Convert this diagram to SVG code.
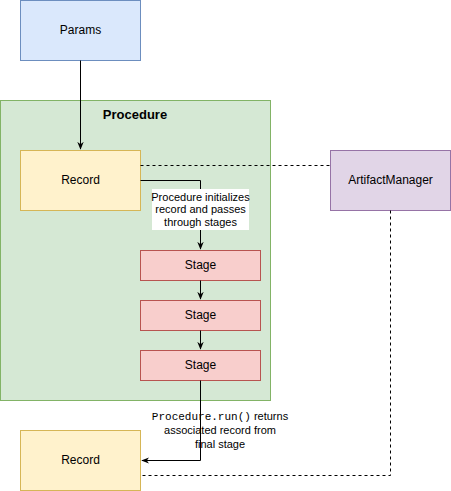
<svg xmlns="http://www.w3.org/2000/svg" width="451" height="491" viewBox="0 0 451 491">
<defs>
<marker id="arr" viewBox="0 0 10 10" refX="9" refY="5" markerWidth="8" markerHeight="8" markerUnits="userSpaceOnUse" orient="auto">
<path d="M0,1 L10,5 L0,9 L3,5 Z" fill="#000"/>
</marker>
</defs>
<style>
text{font-family:"Liberation Sans",Arial,sans-serif;font-size:12px;fill:#000;text-anchor:middle}
.lbl{font-size:11px}
.mono{font-family:"Liberation Mono","Courier New",monospace}
.c{fill:none;stroke:#000;stroke-width:1}
.d{stroke-dasharray:3 3}
</style>
<rect width="451" height="491" fill="#fff"/>
<g id="procedure">
<rect x="0.5" y="100.5" width="270" height="300" fill="#d5e8d4" stroke="#82b366"/>
<text x="135" y="119" style="font-weight:bold;font-size:13px">Procedure</text>
</g>
<g id="params">
<rect x="20.5" y="0.5" width="120" height="60" fill="#dae8fc" stroke="#6c8ebf"/>
<text x="80.5" y="34">Params</text>
</g>
<g id="record1">
<rect x="20.5" y="150.5" width="120" height="60" fill="#fff2cc" stroke="#d6b656"/>
<text x="80.5" y="184">Record</text>
</g>
<g id="artifactManager">
<rect x="330.5" y="150.5" width="120" height="60" fill="#e1d5e7" stroke="#9673a6"/>
<text x="390.5" y="184">ArtifactManager</text>
</g>
<g id="stage1">
<rect x="140.5" y="250.5" width="120" height="30" fill="#f8cecc" stroke="#b85450"/>
<text x="200.5" y="269">Stage</text>
</g>
<g id="stage2">
<rect x="140.5" y="300.5" width="120" height="30" fill="#f8cecc" stroke="#b85450"/>
<text x="200.5" y="319">Stage</text>
</g>
<g id="stage3">
<rect x="140.5" y="350.5" width="120" height="30" fill="#f8cecc" stroke="#b85450"/>
<text x="200.5" y="369">Stage</text>
</g>
<g id="record2">
<rect x="20.5" y="430.5" width="120" height="60" fill="#fff2cc" stroke="#d6b656"/>
<text x="80.5" y="464">Record</text>
</g>
<g id="connectors">
<path class="c" d="M80.5,60.5 V149" marker-end="url(#arr)"/>
<path class="c d" d="M140.5,165.5 H330"/>
<path class="c" d="M140.5,180.5 H200.5 V249" marker-end="url(#arr)"/>
<path class="c" d="M200.5,280.5 V299" marker-end="url(#arr)"/>
<path class="c" d="M200.5,330.5 V349" marker-end="url(#arr)"/>
<path class="c" d="M200.5,380.5 V460.5 H142" marker-end="url(#arr)"/>
<path class="c d" d="M390.5,210.5 V475.5 H140.5"/>
<rect x="152" y="189" width="97" height="41" fill="#fff"/>
<text class="lbl" x="200.5" y="201">Procedure initializes</text>
<text class="lbl" x="200.5" y="213">record and passes</text>
<text class="lbl" x="200.5" y="226">through stages</text>
<text class="lbl" x="220" y="420"><tspan class="mono">Procedure.run()</tspan> returns</text>
<text class="lbl" x="220" y="434">associated record from</text>
<text class="lbl" x="220" y="448">final stage</text>
</g>
</svg>
